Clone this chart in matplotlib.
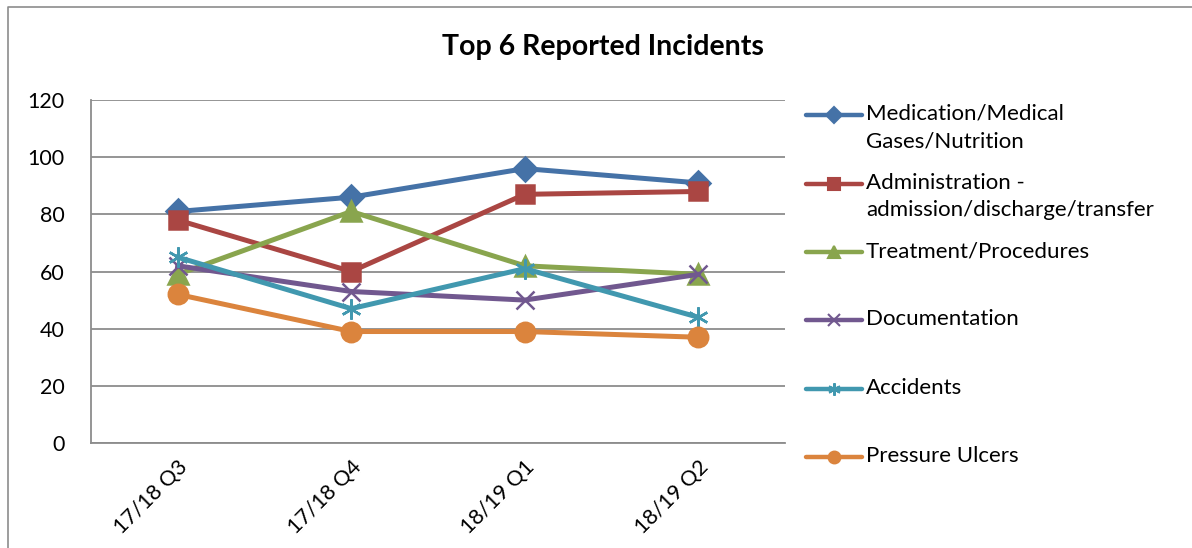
import matplotlib
matplotlib.use('Agg')
import matplotlib.pyplot as plt
from matplotlib.lines import Line2D

plt.rcParams['font.family'] = ['Lato', 'DejaVu Sans']

quarters = ['17/18 Q3', '17/18 Q4', '18/19 Q1', '18/19 Q2']
medication = [81, 86, 96, 91]
administration = [78, 60, 87, 88]
treatment = [59, 81, 62, 59]
documentation = [62, 53, 50, 59]
accidents = [65, 47, 61, 44]
pressure_ulcers = [52, 39, 39, 37]

labels = ['Medication/Medical\nGases/Nutrition',
          'Administration -\nadmission/discharge/transfer',
          'Treatment/Procedures',
          'Documentation',
          'Accidents',
          'Pressure Ulcers']
series = [medication, administration, treatment, documentation, accidents, pressure_ulcers]
colors = ['#4572A7', '#AA4643', '#89A54E', '#71588F', '#4198AF', '#DB843D']
markers = ['D', 's', '^', 'x', (6, 2, 0), 'o']
msizes = [12, 13.5, 14, 13, 14.5, 14]
leg_sizes = [8, 8.5, 9, 8, 9, 8.5]

W, H = 1192, 548
fig = plt.figure(figsize=(W / 100, H / 100), dpi=100)
ax = fig.add_axes([91 / W, 1 - 443 / H, (785 - 91) / W, (443 - 100) / H])

x = list(range(len(quarters)))
for vals, c, m, ms in zip(series, colors, markers, msizes):
    ax.plot(x, vals, color=c, lw=3.6, marker=m, ms=ms, mew=1.8, mec=c, zorder=3)

ax.set_xlim(-0.5, 3.5)
ax.set_ylim(0, 120)
ax.set_yticks(range(0, 121, 20))
ax.set_xticks(x)
ax.set_xticklabels(quarters, rotation=45, ha='right', rotation_mode='anchor')
ax.tick_params(axis='both', length=0, labelsize=15.5)
ax.tick_params(axis='y', pad=19)
ax.tick_params(axis='x', pad=10)
ax.grid(axis='y', color='#8c8c8c', lw=1.3)
ax.set_axisbelow(True)
for s in ['top', 'right']:
    ax.spines[s].set_visible(False)
for s in ['left', 'bottom']:
    ax.spines[s].set_color('#8c8c8c')
    ax.spines[s].set_linewidth(1.3)

fig.text(603 / W, 1 - 47 / H, 'Top 6 Reported Incidents', ha='center', va='center',
         fontsize=20.5, fontweight='bold')

# legend drawn by hand to match the evenly spaced handles
ys = [115, 184, 252, 320, 389, 457]
for lab, c, m, ms, yy in zip(labels, colors, markers, leg_sizes, ys):
    fy = 1 - yy / H
    fig.add_artist(Line2D([806 / W, 862 / W], [fy, fy], color=c, lw=3.2,
                          solid_capstyle='round', transform=fig.transFigure))
    fig.add_artist(Line2D([834 / W], [fy], color=c, marker=m, ms=ms, mew=1.5, mec=c,
                          transform=fig.transFigure))
    fig.text(866 / W, fy + 11 / H, lab, ha='left', va='top', fontsize=16, linespacing=1.45)

# chart border (left and top edges visible)
fig.add_artist(Line2D([8 / W, 8 / W, 1.0], [0, 1 - 7 / H, 1 - 7 / H], color='#8c8c8c', lw=1.2,
                      transform=fig.transFigure))

fig.savefig('out.png', dpi=100)
